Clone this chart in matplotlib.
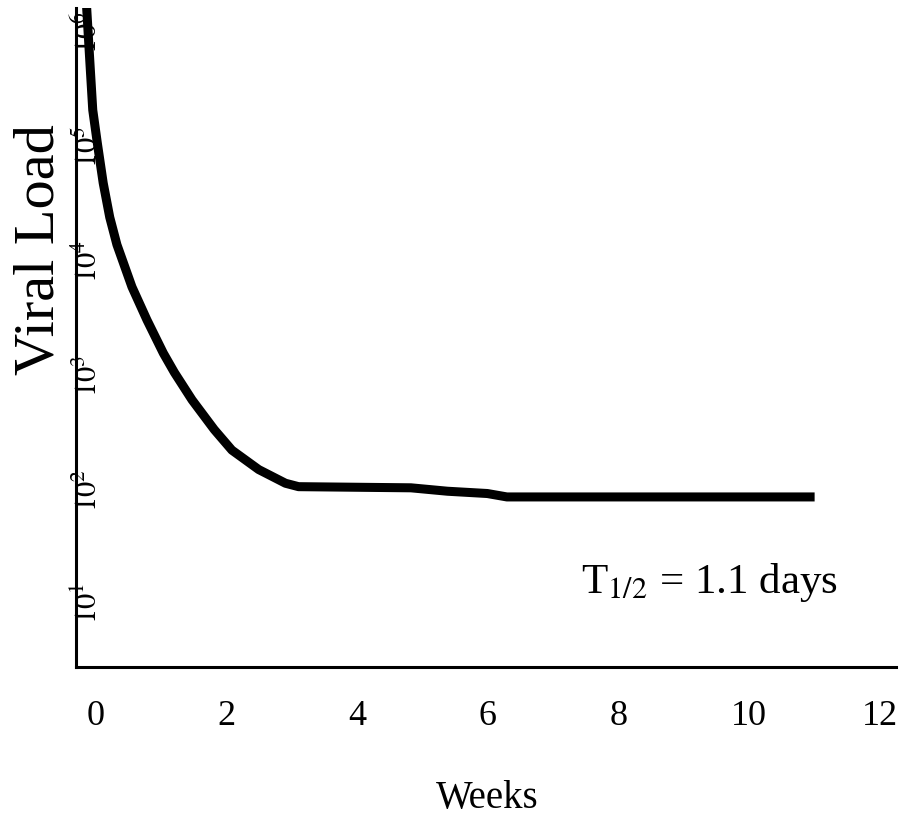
#!/usr/bin/env python3
"""
Viral load decline during therapy (log scale), saved as out.png
"""

import sys
import numpy as np
import matplotlib
matplotlib.use("Agg")
import matplotlib.pyplot as plt

# Values
weeks = [-0.15, -0.09, -0.05, 0.02, 0.11, 0.21, 0.32, 0.55, 0.78, 1.03,
         1.20, 1.47, 1.81, 2.08, 2.49, 2.90, 3.10, 4.82, 5.38, 5.99,
         6.29, 11.0]
log_load = [6.20, 5.62, 5.24, 4.95, 4.60, 4.30, 4.06, 3.69, 3.40, 3.11,
            2.94, 2.70, 2.44, 2.26, 2.09, 1.97, 1.94, 1.93, 1.90, 1.88,
            1.85, 1.85]
x_ticks = [0, 2, 4, 6, 8, 10, 12]
y_exponents = [1, 2, 3, 4, 5, 6]
half_life_text = r'T$_{1/2}$ = 1.1 days'


def make_plot():
    plt.rcParams['font.family'] = ['Liberation Serif', 'DejaVu Serif']
    plt.rcParams['mathtext.fontset'] = 'stix'

    fig = plt.figure(figsize=(9.03, 8.25), dpi=100)
    ax = fig.add_axes([0.0842, 0.1915, 0.908, 0.799])

    load = np.power(10.0, log_load)
    ax.plot(weeks, load, color='black', lw=6.5, solid_capstyle='butt',
            solid_joinstyle='round')
    ax.set_yscale('log')
    ax.set_xlim(-0.306, 12.245)
    ax.set_ylim(10**0.36, 10**6.135)

    # Axes look: only left and bottom spines, no tick marks
    for side in ('top', 'right'):
        ax.spines[side].set_visible(False)
    for side in ('left', 'bottom'):
        ax.spines[side].set_linewidth(2.2)

    ax.set_xticks(x_ticks)
    ax.set_xticklabels([str(v) for v in x_ticks])
    ax.tick_params(axis='x', length=0, pad=24, labelsize=26)

    ax.set_yticks([10.0**e for e in y_exponents])
    ax.set_yticklabels([r'$10^{%d}$' % e for e in y_exponents])
    ax.yaxis.set_minor_locator(matplotlib.ticker.NullLocator())
    ax.tick_params(axis='y', length=0, pad=-20, labelsize=22,
                   labelrotation=90)

    ax.set_xlabel('Weeks', fontsize=28, va='center')
    ax.xaxis.set_label_coords(0.502, -0.199)
    ax.set_ylabel('Viral Load', fontsize=42, va='center')
    ax.yaxis.set_label_coords(-0.044, 0.633)

    ax.text(7.43, 10**1.10, half_life_text, fontsize=31,
            ha='left', va='center')

    fig.savefig('out.png', dpi=100)


def main(argv):
    make_plot()
    return 0


if __name__ == '__main__':
    sys.exit(main(sys.argv[1:]))
